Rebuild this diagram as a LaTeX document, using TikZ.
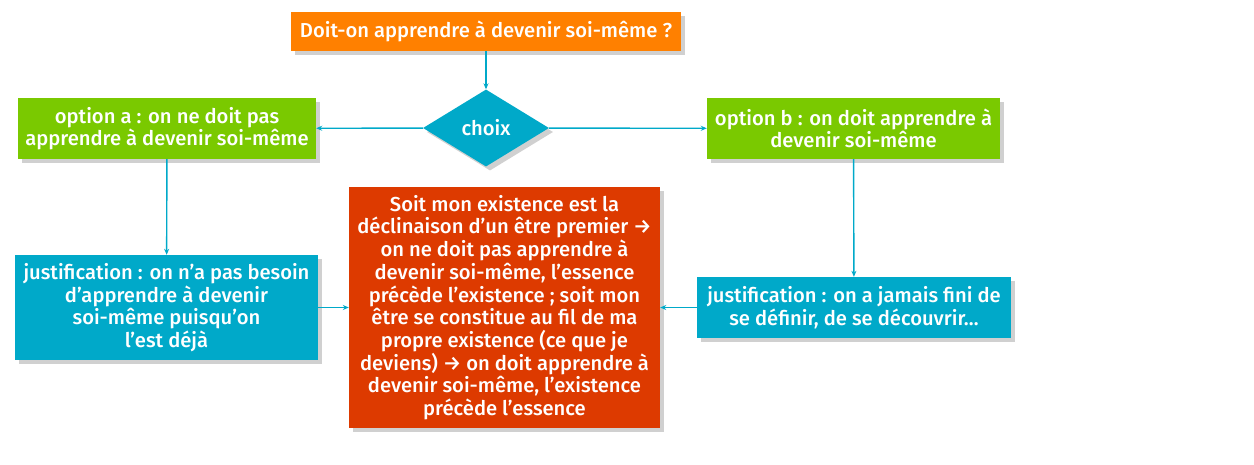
\documentclass[tikz,border=0pt]{standalone}
\usepackage{fontspec}
\setmainfont{Fira Sans Medium}
\usepackage{tikz}
\usetikzlibrary{shapes.geometric,arrows.meta,shadows}
\definecolor{orangebox}{RGB}{255,128,0}
\definecolor{greenbox}{RGB}{122,201,0}
\definecolor{bluebox}{RGB}{0,169,201}
\definecolor{redbox}{RGB}{221,58,0}
\definecolor{shade}{RGB}{150,150,150}
\tikzset{
  box/.style={rectangle, text=white, align=center, inner sep=2pt,
    font=\fontsize{20.2}{22.7}\selectfont,
    drop shadow={shadow xshift=4pt, shadow yshift=-4pt, fill=shade, opacity=0.45}},
  link/.style={draw=bluebox, line width=1.4pt, -{Stealth[length=6pt,width=5pt]}}
}

\begin{document}
\begin{tikzpicture}[x=1pt, y=-1pt]
\useasboundingbox (0, 0) rectangle (1254, 464);
\node [box, fill=orangebox, minimum width=390pt, minimum height=39pt] (question) at (486, 31.5) {Doit-on apprendre à devenir soi-même ?};
\node [box, diamond, fill=bluebox, aspect=1.64, minimum width=126pt, minimum height=77pt, inner sep=0pt] (choix) at (486, 128) {choix};
\node [box, fill=greenbox, minimum width=298pt, minimum height=61pt] (optiona) at (167, 128.5) {option a : on ne doit pas\\apprendre à devenir soi-même};
\node [box, fill=greenbox, minimum width=293pt, minimum height=61pt] (optionb) at (853.5, 128.5) {option b : on doit apprendre à\\devenir soi-même};
\node [box, fill=bluebox, minimum width=303pt, minimum height=105pt] (justa) at (166.5, 307.5) {justification : on n’a pas besoin\\d’apprendre à devenir\\soi-même puisqu’on\\l’est déjà};
\node [box, fill=bluebox, minimum width=314pt, minimum height=61pt] (justb) at (854, 307.5) {justification : on a jamais fini de\\se définir, de se découvrir…};
\node [box, fill=redbox, minimum width=311pt, minimum height=241pt] (concl) at (504.5, 307.5) {Soit mon existence est la\\déclinaison d’un être premier →\\on ne doit pas apprendre à\\devenir soi-même, l’essence\\précède l’existence ; soit mon\\être se constitue au fil de ma\\propre existence (ce que je\\deviens) → on doit apprendre à\\devenir soi-même, l’existence\\précède l’essence};
\draw [link] (question) -- (choix);
\draw [link] (choix) -- (optiona);
\draw [link] (choix) -- (optionb);
\draw [link] (optiona) -- (justa);
\draw [link] (optionb) -- (justb);
\draw [link] (justa) -- (concl);
\draw [link] (justb) -- (concl);
\end{tikzpicture}
\end{document}
